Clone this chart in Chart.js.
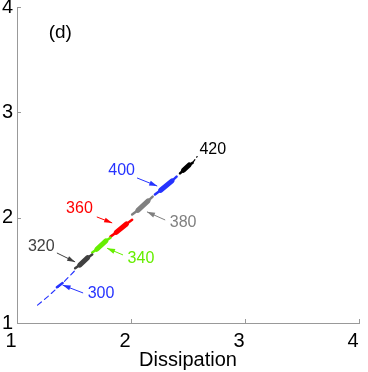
<!DOCTYPE html>
<html>
<head>
<meta charset="utf-8">
<script src="https://cdn.jsdelivr.net/npm/chart.js@4.4.1/dist/chart.umd.min.js"></script>
<style>
  html, body { margin: 0; padding: 0; background: #fff; }
  #wrap { width: 368px; height: 372px; position: relative; }
</style>
</head>
<body>
<div id="wrap"><canvas id="chart"></canvas></div>
<script>
// traces, [dissipation, y]
const trace300 = [[1.18, 1.17], [1.27, 1.25], [1.36, 1.34], [1.42, 1.40], [1.51, 1.50]];
const blob300 = [[1.35, 1.34], [1.40, 1.38]];
const trace320 = [[1.51, 1.52], [1.55, 1.55], [1.62, 1.62], [1.66, 1.65]];
const trace340 = [[1.66, 1.67], [1.70, 1.70], [1.78, 1.78], [1.82, 1.81]];
const trace360 = [[1.82, 1.82], [1.87, 1.86], [1.96, 1.94], [2.01, 1.98]];
const trace380 = [[2.01, 2.03], [2.06, 2.07], [2.15, 2.16], [2.19, 2.20]];
const trace400 = [[2.21, 2.22], [2.26, 2.26], [2.36, 2.35], [2.40, 2.39]];
const trace420 = [[2.43, 2.42], [2.46, 2.45], [2.51, 2.50], [2.54, 2.52]];
const tail420 = [[2.54, 2.52], [2.58, 2.58]];

// annotations: label text, label position, arrow tail, arrow head
const labels = ['300', '320', '340', '360', '380', '400', '420'];
const labelPos = [[1.62, 1.275], [1.33, 1.73], [1.97, 1.615], [1.665, 2.085], [2.34, 1.95], [2.035, 2.445], [2.60, 2.645]];
const arrowTail = [[1.58, 1.285], [1.35, 1.665], [1.93, 1.646], [1.70, 2.007], [2.30, 1.978], [2.053, 2.377], null];
const arrowHead = [[1.40, 1.36], [1.51, 1.58], [1.79, 1.71], [1.835, 1.95], [2.14, 2.055], [2.23, 2.30], null];
const labelAlign = ['left', 'right', 'left', 'right', 'left', 'right', 'left'];
const colors = ['#2633ff', '#404040', '#66ee00', '#ff0000', '#808080', '#2633ff', '#000000'];

const xTicks = [1, 2, 3, 4];
const yTicks = [1, 2, 3, 4];

const toXY = arr => arr.map(p => ({ x: p[0], y: p[1] }));

function lineSet(arr, color, width, dash) {
    return {
        data: toXY(arr),
        showLine: true,
        borderColor: color,
        backgroundColor: color,
        borderWidth: width,
        borderDash: dash || [],
        borderCapStyle: 'round',
        pointRadius: 0,
        fill: false
    };
}

// thick in the middle, thinner at the ends, like the elongated blobs
function blobSet(arr, color) {
    const ds = lineSet(arr, color, 3);
    ds.segment = {
        borderWidth: c => (c.p0DataIndex === 0 || c.p1DataIndex === arr.length - 1) ? 2.5 : 5
    };
    return ds;
}

const annotate = {
    id: 'annotate',
    afterDatasetsDraw(chart) {
        const ctx = chart.ctx;
        const xs = chart.scales.x, ys = chart.scales.y;
        ctx.save();
        labels.forEach((t, i) => {
            const c = colors[i];
            if (arrowTail[i]) {
                const x1 = xs.getPixelForValue(arrowTail[i][0]), y1 = ys.getPixelForValue(arrowTail[i][1]);
                const x2 = xs.getPixelForValue(arrowHead[i][0]), y2 = ys.getPixelForValue(arrowHead[i][1]);
                const a = Math.atan2(y2 - y1, x2 - x1);
                ctx.strokeStyle = c;
                ctx.fillStyle = c;
                ctx.lineWidth = 1;
                ctx.beginPath();
                ctx.moveTo(x1, y1);
                ctx.lineTo(x2, y2);
                ctx.stroke();
                ctx.beginPath();
                ctx.moveTo(x2, y2);
                ctx.lineTo(x2 - 8 * Math.cos(a) + 2.5 * Math.sin(a), y2 - 8 * Math.sin(a) - 2.5 * Math.cos(a));
                ctx.lineTo(x2 - 8 * Math.cos(a) - 2.5 * Math.sin(a), y2 - 8 * Math.sin(a) + 2.5 * Math.cos(a));
                ctx.closePath();
                ctx.fill();
            }
            ctx.fillStyle = c;
            ctx.font = '16px "Liberation Sans", Arial, sans-serif';
            ctx.textAlign = labelAlign[i];
            ctx.textBaseline = 'middle';
            ctx.fillText(t, xs.getPixelForValue(labelPos[i][0]), ys.getPixelForValue(labelPos[i][1]));
        });
        // panel tag
        ctx.fillStyle = '#000';
        ctx.font = '19px "Liberation Sans", Arial, sans-serif';
        ctx.textAlign = 'center';
        ctx.fillText('(d)', xs.getPixelForValue(1.38), ys.getPixelForValue(3.76));

        // inward tick marks
        ctx.strokeStyle = '#999';
        ctx.lineWidth = 1;
        const ca = chart.chartArea;
        xTicks.forEach(v => {
            const px = Math.round(xs.getPixelForValue(v)) + 0.5;
            ctx.beginPath();
            ctx.moveTo(px, ca.bottom);
            ctx.lineTo(px, ca.bottom - 4);
            ctx.stroke();
        });
        yTicks.forEach(v => {
            const py = Math.round(ys.getPixelForValue(v)) + 0.5;
            ctx.beginPath();
            ctx.moveTo(ca.left, py);
            ctx.lineTo(ca.left + 4, py);
            ctx.stroke();
        });
        ctx.restore();
    }
};

new Chart(document.getElementById('chart'), {
    type: 'scatter',
    data: {
        datasets: [
            lineSet(trace300, colors[0], 1.2, [5, 4]),
            lineSet(blob300, colors[0], 2.5),
            blobSet(trace320, colors[1]),
            blobSet(trace340, colors[2]),
            blobSet(trace360, colors[3]),
            blobSet(trace380, colors[4]),
            blobSet(trace400, colors[5]),
            blobSet(trace420, colors[6]),
            lineSet(tail420, colors[6], 1.2, [4, 3])
        ]
    },
    options: {
        animation: false,
        responsive: true,
        maintainAspectRatio: false,
        layout: { padding: { top: 7, right: 9, left: 0, bottom: 0 } },
        plugins: { legend: { display: false }, tooltip: { enabled: false } },
        scales: {
            x: {
                type: 'linear', min: 1, max: 4,
                afterBuildTicks: s => { s.ticks = xTicks.map(v => ({ value: v })); },
                afterFit: s => { s.height = 49; s.paddingLeft = 0; s.paddingRight = 0; },
                grid: { display: true, drawOnChartArea: false, drawTicks: false },
                border: { display: true, color: '#999', width: 1 },
                ticks: { color: '#000', padding: 6, labelOffset: -6, font: { family: '"Liberation Sans", Arial', size: 20 } },
                title: { display: true, text: 'Dissipation', color: '#000', padding: 0, font: { family: '"Liberation Sans", Arial', size: 20 } }
            },
            y: {
                type: 'linear', min: 1, max: 4,
                afterBuildTicks: s => { s.ticks = yTicks.map(v => ({ value: v })); },
                afterFit: s => { s.width = 17; s.paddingTop = 0; s.paddingBottom = 0; },
                grid: { display: true, drawOnChartArea: false, drawTicks: false },
                border: { display: true, color: '#999', width: 1 },
                ticks: { color: '#000', padding: 4, font: { family: '"Liberation Sans", Arial', size: 20 } }
            }
        }
    },
    plugins: [annotate]
});
</script>
</body>
</html>
